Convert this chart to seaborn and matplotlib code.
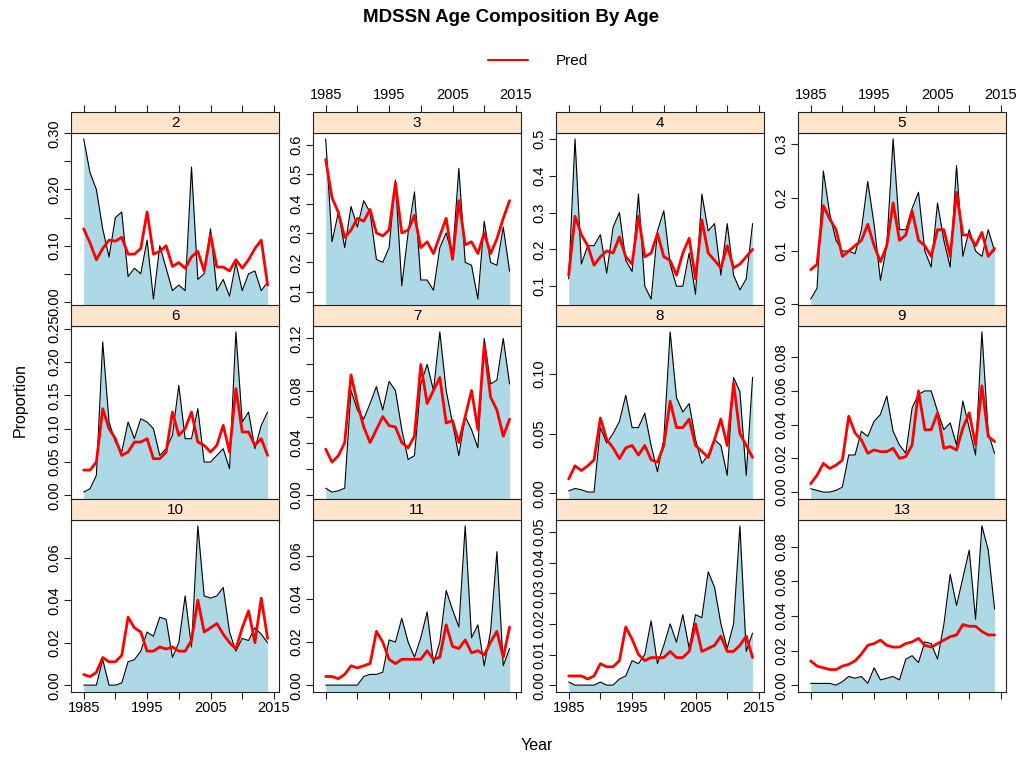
import numpy as np
import pandas as pd
import matplotlib
matplotlib.use("Agg")
import matplotlib.pyplot as plt
from matplotlib.lines import Line2D
import seaborn as sns

sns.set_theme(style="white")
plt.rcParams["font.family"] = ["Liberation Sans", "DejaVu Sans"]
plt.rcParams["text.color"] = "black"
plt.rcParams["xtick.color"] = "black"
plt.rcParams["ytick.color"] = "black"
plt.rcParams["axes.labelcolor"] = "black"

years = list(range(1985, 2015))

obs_age2 = [0.29, 0.23, 0.20, 0.13, 0.08, 0.15, 0.16, 0.045, 0.06, 0.05, 0.11, 0.005, 0.10, 0.06, 0.02,
            0.03, 0.02, 0.24, 0.04, 0.05, 0.13, 0.02, 0.04, 0.01, 0.07, 0.02, 0.05, 0.055, 0.02, 0.035]
pred_age2 = [0.13, 0.105, 0.075, 0.095, 0.11, 0.108, 0.115, 0.085, 0.085, 0.095, 0.16, 0.085, 0.09, 0.10, 0.063,
             0.07, 0.06, 0.08, 0.09, 0.055, 0.12, 0.062, 0.062, 0.055, 0.075, 0.06, 0.075, 0.095, 0.11, 0.03]

obs_age3 = [0.62, 0.27, 0.37, 0.25, 0.39, 0.32, 0.41, 0.37, 0.21, 0.20, 0.25, 0.48, 0.12, 0.30, 0.44,
            0.14, 0.14, 0.105, 0.25, 0.30, 0.22, 0.52, 0.20, 0.19, 0.075, 0.34, 0.20, 0.19, 0.32, 0.17]
pred_age3 = [0.55, 0.42, 0.37, 0.285, 0.31, 0.35, 0.34, 0.38, 0.30, 0.29, 0.31, 0.47, 0.30, 0.31, 0.36,
             0.25, 0.27, 0.23, 0.29, 0.35, 0.21, 0.41, 0.26, 0.27, 0.23, 0.30, 0.23, 0.28, 0.35, 0.41]

obs_age4 = [0.12, 0.50, 0.16, 0.21, 0.21, 0.24, 0.135, 0.26, 0.30, 0.17, 0.14, 0.35, 0.10, 0.065, 0.25,
            0.305, 0.16, 0.10, 0.10, 0.19, 0.078, 0.35, 0.25, 0.27, 0.13, 0.27, 0.13, 0.09, 0.12, 0.27]
pred_age4 = [0.13, 0.29, 0.24, 0.21, 0.157, 0.18, 0.196, 0.19, 0.234, 0.18, 0.16, 0.29, 0.18, 0.19, 0.243,
             0.18, 0.17, 0.13, 0.19, 0.23, 0.12, 0.28, 0.19, 0.17, 0.15, 0.21, 0.15, 0.16, 0.18, 0.20]

obs_age5 = [0.01, 0.03, 0.25, 0.17, 0.12, 0.10, 0.10, 0.095, 0.14, 0.23, 0.15, 0.045, 0.11, 0.31, 0.14,
            0.14, 0.18, 0.21, 0.10, 0.07, 0.19, 0.12, 0.07, 0.26, 0.09, 0.14, 0.10, 0.09, 0.14, 0.10]
pred_age5 = [0.065, 0.075, 0.185, 0.16, 0.14, 0.09, 0.10, 0.11, 0.12, 0.15, 0.11, 0.08, 0.11, 0.19, 0.12,
             0.13, 0.175, 0.12, 0.11, 0.09, 0.14, 0.14, 0.09, 0.21, 0.13, 0.13, 0.11, 0.135, 0.09, 0.105]

obs_age6 = [0.005, 0.01, 0.03, 0.23, 0.11, 0.08, 0.065, 0.11, 0.085, 0.115, 0.11, 0.10, 0.06, 0.07, 0.09,
            0.165, 0.085, 0.085, 0.13, 0.05, 0.05, 0.06, 0.07, 0.04, 0.245, 0.11, 0.125, 0.07, 0.105, 0.125]
pred_age6 = [0.038, 0.038, 0.05, 0.13, 0.10, 0.085, 0.06, 0.065, 0.08, 0.08, 0.085, 0.055, 0.055, 0.065, 0.125,
             0.09, 0.10, 0.125, 0.08, 0.075, 0.065, 0.075, 0.105, 0.065, 0.16, 0.095, 0.095, 0.075, 0.085, 0.06]

obs_age7 = [0.005, 0.002, 0.003, 0.005, 0.08, 0.065, 0.058, 0.07, 0.083, 0.065, 0.087, 0.08, 0.05, 0.027, 0.03,
            0.085, 0.10, 0.08, 0.125, 0.08, 0.055, 0.03, 0.06, 0.05, 0.036, 0.12, 0.085, 0.088, 0.12, 0.085]
pred_age7 = [0.035, 0.025, 0.03, 0.04, 0.092, 0.07, 0.052, 0.04, 0.05, 0.06, 0.053, 0.052, 0.04, 0.036, 0.045,
             0.10, 0.07, 0.08, 0.09, 0.055, 0.057, 0.04, 0.06, 0.08, 0.05, 0.115, 0.075, 0.065, 0.045, 0.058]

obs_age8 = [0.002, 0.004, 0.003, 0.001, 0.001, 0.055, 0.042, 0.05, 0.06, 0.082, 0.055, 0.055, 0.067, 0.04, 0.018,
            0.045, 0.135, 0.08, 0.068, 0.075, 0.045, 0.025, 0.032, 0.045, 0.04, 0.015, 0.097, 0.085, 0.015, 0.097]
pred_age8 = [0.012, 0.023, 0.019, 0.023, 0.028, 0.063, 0.045, 0.038, 0.029, 0.038, 0.04, 0.032, 0.04, 0.028, 0.026,
             0.04, 0.077, 0.055, 0.055, 0.062, 0.04, 0.035, 0.03, 0.045, 0.062, 0.04, 0.092, 0.05, 0.04, 0.03]

obs_age9 = [0.002, 0.001, 0.0, 0.0, 0.001, 0.003, 0.022, 0.022, 0.036, 0.033, 0.042, 0.046, 0.057, 0.036, 0.028,
            0.023, 0.05, 0.058, 0.06, 0.06, 0.048, 0.037, 0.041, 0.028, 0.054, 0.038, 0.022, 0.095, 0.035, 0.023]
pred_age9 = [0.005, 0.01, 0.017, 0.014, 0.016, 0.019, 0.045, 0.035, 0.031, 0.023, 0.025, 0.024, 0.024, 0.026, 0.02,
             0.021, 0.028, 0.06, 0.037, 0.037, 0.047, 0.026, 0.027, 0.025, 0.038, 0.047, 0.028, 0.063, 0.033, 0.03]

obs_age10 = [0.0, 0.0, 0.0, 0.012, 0.0, 0.0, 0.001, 0.011, 0.012, 0.016, 0.025, 0.023, 0.032, 0.031, 0.013,
             0.02, 0.042, 0.018, 0.075, 0.042, 0.041, 0.042, 0.046, 0.025, 0.016, 0.022, 0.021, 0.027, 0.024, 0.02]
pred_age10 = [0.005, 0.004, 0.006, 0.013, 0.011, 0.011, 0.014, 0.032, 0.027, 0.025, 0.016, 0.016, 0.018, 0.017, 0.018,
              0.016, 0.016, 0.021, 0.04, 0.025, 0.027, 0.029, 0.024, 0.02, 0.017, 0.027, 0.035, 0.02, 0.041, 0.022]

obs_age11 = [0.0, 0.0, 0.0, 0.0, 0.0, 0.0, 0.004, 0.005, 0.005, 0.006, 0.021, 0.02, 0.031, 0.02, 0.013,
             0.022, 0.034, 0.01, 0.02, 0.044, 0.035, 0.027, 0.074, 0.022, 0.028, 0.009, 0.025, 0.062, 0.009, 0.017]
pred_age11 = [0.004, 0.004, 0.003, 0.005, 0.009, 0.008, 0.009, 0.01, 0.025, 0.02, 0.012, 0.01, 0.012, 0.012, 0.012,
              0.012, 0.016, 0.012, 0.013, 0.028, 0.018, 0.017, 0.021, 0.015, 0.016, 0.014, 0.02, 0.025, 0.013, 0.027]

obs_age12 = [0.001, 0.0, 0.0, 0.0, 0.0, 0.001, 0.0, 0.0, 0.002, 0.003, 0.008, 0.007, 0.01, 0.021, 0.007,
             0.013, 0.02, 0.014, 0.023, 0.012, 0.023, 0.022, 0.037, 0.032, 0.02, 0.012, 0.02, 0.052, 0.011, 0.017]
pred_age12 = [0.003, 0.003, 0.003, 0.002, 0.003, 0.007, 0.006, 0.006, 0.008, 0.019, 0.015, 0.01, 0.008, 0.009, 0.009,
              0.009, 0.011, 0.009, 0.009, 0.011, 0.02, 0.011, 0.012, 0.013, 0.016, 0.011, 0.011, 0.013, 0.016, 0.009]

obs_age13 = [0.001, 0.001, 0.001, 0.001, 0.0, 0.002, 0.005, 0.004, 0.005, 0.001, 0.01, 0.003, 0.004, 0.005, 0.003,
             0.015, 0.017, 0.013, 0.025, 0.024, 0.015, 0.035, 0.064, 0.046, 0.062, 0.078, 0.038, 0.092, 0.078, 0.044]
pred_age13 = [0.014, 0.011, 0.01, 0.009, 0.009, 0.011, 0.012, 0.014, 0.018, 0.023, 0.024, 0.026, 0.023, 0.022, 0.022,
              0.024, 0.025, 0.027, 0.023, 0.022, 0.024, 0.026, 0.028, 0.029, 0.035, 0.034, 0.034, 0.031, 0.029, 0.029]

ages = ["2", "3", "4", "5", "6", "7", "8", "9", "10", "11", "12", "13"]
observed = [obs_age2, obs_age3, obs_age4, obs_age5, obs_age6, obs_age7,
            obs_age8, obs_age9, obs_age10, obs_age11, obs_age12, obs_age13]
predicted = [pred_age2, pred_age3, pred_age4, pred_age5, pred_age6, pred_age7,
             pred_age8, pred_age9, pred_age10, pred_age11, pred_age12, pred_age13]

# y-axis tick positions and which of them carry labels, per panel
yticks = [
    (np.arange(0, 0.301, 0.05), [0.0, 0.1, 0.2, 0.3]),
    (np.arange(0.1, 0.601, 0.1), None),
    (np.arange(0.1, 0.501, 0.1), None),
    (np.arange(0.0, 0.301, 0.1), None),
    (np.arange(0.0, 0.251, 0.05), None),
    (np.arange(0.0, 0.121, 0.02), [0.0, 0.04, 0.08, 0.12]),
    (np.arange(0.0, 0.101, 0.05), None),
    (np.arange(0.0, 0.081, 0.02), None),
    (np.arange(0.0, 0.061, 0.02), None),
    (np.arange(0.0, 0.061, 0.02), None),
    (np.arange(0.0, 0.051, 0.01), None),
    (np.arange(0.0, 0.081, 0.02), None),
]
ydec = [2, 1, 1, 1, 2, 2, 2, 2, 2, 2, 2, 2]

year_ticks = list(range(1985, 2016, 5))
year_labels = ["1985", "", "1995", "", "2005", "", "2015"]

W, H = 1016, 757
fig = plt.figure(figsize=(W / 100, H / 100), dpi=100)

col_left = [71, 313, 556, 798]
panel_w = 208
row_strip_top = [112, 305, 499]
strip_h = 20.5
panel_h = [173, 173, 172]

FRAME = "#222222"
LAB = 10.5

for i, age in enumerate(ages):
    r, c = divmod(i, 4)
    x0 = col_left[c]
    st = row_strip_top[r]
    pt = st + strip_h
    ph = panel_h[r]
    ax = fig.add_axes([x0 / W, 1 - (pt + ph) / H, panel_w / W, ph / H])
    sax = fig.add_axes([x0 / W, 1 - pt / H, panel_w / W, strip_h / H])

    obs = np.array(observed[i])
    pred = np.array(predicted[i])
    lo = min(obs.min(), pred.min())
    hi = max(obs.max(), pred.max())
    pad = 0.04 * (hi - lo)
    ylo, yhi = lo - pad, hi + pad

    df = pd.DataFrame({"Year": years, "Observed": obs, "Pred": pred})
    ax.fill_between(df["Year"], df["Observed"], ylo, color="#ADD8E6", lw=0)
    sns.lineplot(data=df, x="Year", y="Observed", color="black", lw=0.8, ax=ax)
    sns.lineplot(data=df, x="Year", y="Pred", color="red", lw=2.0, ax=ax)

    ax.set_xlim(1983.0, 2015.8)
    ax.set_ylim(ylo, yhi)
    ax.set_xlabel("")
    ax.set_ylabel("")
    ax.set_facecolor("white")

    ticks, labelled = yticks[i]
    ax.set_yticks(ticks)
    fmt = "{:.%df}" % ydec[i]
    if labelled is None:
        labs = [fmt.format(t) for t in ticks]
    else:
        labs = [fmt.format(t) if any(abs(t - l) < 1e-9 for l in labelled) else "" for t in ticks]
    ax.set_yticklabels(labs)
    ax.tick_params(axis="y", left=True, length=5, width=0.8, color=FRAME, pad=2,
                   labelsize=LAB, labelrotation=90)
    for lab in ax.get_yticklabels():
        lab.set_va("center")

    for sp in ax.spines.values():
        sp.set_color(FRAME)
        sp.set_linewidth(0.8)

    # strip
    sax.set_facecolor("#FFE5CC")
    sax.set_xlim(1983.0, 2015.8)
    sax.set_ylim(0, 1)
    sax.set_yticks([])
    sax.text(0.5, 0.45, age, transform=sax.transAxes, ha="center", va="center",
             fontsize=11, color="black")
    for sp in sax.spines.values():
        sp.set_color(FRAME)
        sp.set_linewidth(0.8)

    # alternating x axes along top and bottom of the layout
    if r == 0:
        sax.xaxis.tick_top()
        sax.set_xticks(year_ticks)
        sax.set_xticklabels(year_labels if c % 2 == 1 else [""] * len(year_ticks))
        sax.tick_params(axis="x", top=True, bottom=False, length=5, width=0.8,
                        color=FRAME, labelsize=LAB, pad=2)
    else:
        sax.set_xticks([])
    if r == 2:
        ax.set_xticks(year_ticks)
        ax.set_xticklabels(year_labels if c % 2 == 0 else [""] * len(year_ticks))
        ax.tick_params(axis="x", bottom=True, length=5, width=0.8, color=FRAME,
                       labelsize=LAB, pad=2)
    else:
        ax.set_xticks([])

fig.text(0.503, 1 - 18 / H, "MDSSN Age Composition By Age", ha="center", va="center",
         fontsize=13.5, fontweight="bold", color="black")
fig.legend(handles=[Line2D([0], [0], color="red", lw=1.5)], labels=["Pred"],
           loc="center", bbox_to_anchor=(538 / W, 1 - 61 / H), frameon=False,
           fontsize=11, handlelength=2.6, handletextpad=1.8)
fig.text(537 / W, 1 - 745 / H, "Year", ha="center", va="center", fontsize=11.5)
fig.text(20 / W, 1 - 400 / H, "Proportion", ha="center", va="center", fontsize=11.5,
         rotation=90)

fig.savefig("out.png", dpi=100, facecolor="white")
